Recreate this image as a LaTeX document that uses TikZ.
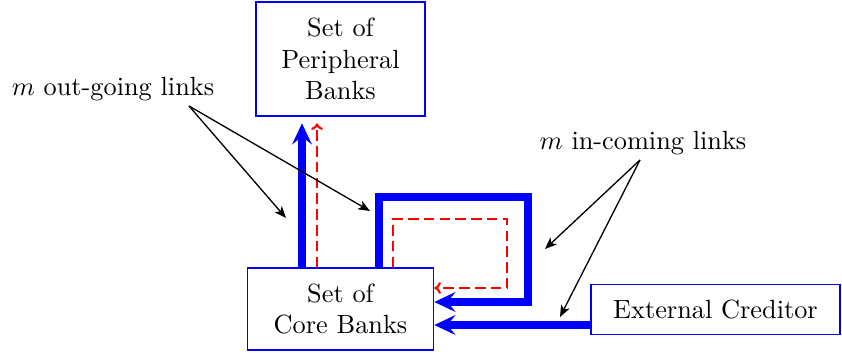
\documentclass[tikz,border=0pt]{standalone}
\usetikzlibrary{calc,arrows.meta}
\begin{document}
\begin{tikzpicture}[x=0.38pt,y=-0.38pt,
  box/.style={draw=blue,line width=0.6pt,align=center,inner sep=0pt},
  flow/.style={draw=blue,line width=2.7pt,-{Stealth[length=8pt,width=7.5pt,inset=3pt]}},
  mirror/.style={draw=red,line width=0.8pt,dash pattern=on 4pt off 2pt,-{To[length=2.5pt,width=4.5pt]}},
  pointer/.style={draw=black,line width=0.5pt,-{Stealth[length=4.5pt,width=3.6pt,inset=1.2pt]}}]
\useasboundingbox (0,0) rectangle (842,355);
\node[box,minimum width=64.2pt,minimum height=43.3pt] (periph) at (340.5,59) {Set of\\Peripheral\\Banks};
\node[box,minimum width=70.7pt,minimum height=31.2pt] (core) at (340.5,309) {Set of\\Core Banks};
\node[box,minimum width=94.6pt,minimum height=19pt] (ext) at (715.5,309.5) {External Creditor};
% coordinates
\coordinate (bx) at (302,0);
\coordinate (rx) at (317,0);
\coordinate (b1) at (379,197);
\coordinate (b2) at (528,197);
\coordinate (b3) at (528,302);
\coordinate (r1) at (393,219);
\coordinate (r2) at (507,219);
\coordinate (r3) at (507,288);
\coordinate (ey) at (0,325);
% vertical links
\draw[flow,shorten >=2.5pt] (core.north -| bx) -- (periph.south -| bx);
\draw[mirror,shorten >=2.5pt] (core.north -| rx) -- (periph.south -| rx);
% loops
\draw[flow] (core.north -| b1) -- (b1) -- (b2) -- (b3) -- (core.east |- b3);
\draw[mirror] (core.north -| r1) -- (r1) -- (r2) -- (r3) -- (core.east |- r3);
% external
\draw[flow] (ext.west |- ey) -- (core.east |- ey);
% labels
\node (outl) at (113,89) {$m$ out-going links};
\node (inl) at (643,143) {$m$ in-coming links};
\coordinate (os) at (189,106);
\coordinate (ot1) at (286,218);
\coordinate (ot2) at (370,211);
\coordinate (is) at (640,160);
\coordinate (it1) at (545,249);
\coordinate (it2) at (560,317);
\draw[pointer] (os) -- (ot1);
\draw[pointer] (os) -- (ot2);
\draw[pointer] (is) -- (it1);
\draw[pointer] (is) -- (it2);
\end{tikzpicture}
\end{document}
